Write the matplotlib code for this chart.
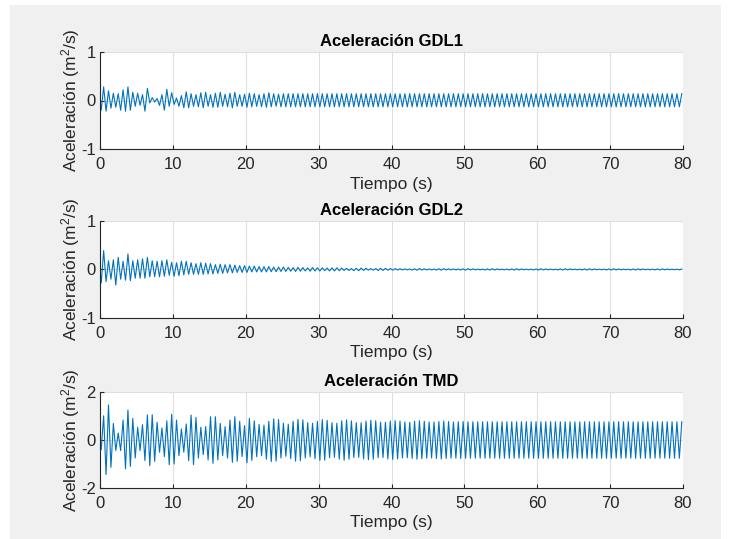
import numpy as np
import matplotlib
matplotlib.use("Agg")
import matplotlib.pyplot as plt
from matplotlib.patches import Rectangle

plt.rcParams['font.family'] = ['Liberation Sans', 'DejaVu Sans']
plt.rcParams['mathtext.fontset'] = 'custom'
plt.rcParams['mathtext.rm'] = 'Liberation Sans'
plt.rcParams['mathtext.it'] = 'Liberation Sans:italic'
plt.rcParams['axes.unicode_minus'] = False

# Extremos (valle/pico alternados), uno cada medio ciclo
medio_periodo = 1 / 3  # s

gdl1_ext = [
    -0.2, 0.28, -0.22, 0.2, -0.16, 0.15, -0.14, 0.14, -0.2, 0.22,
    -0.22, 0.28, -0.2, 0.17, -0.12, 0.15, -0.1, 0.12, -0.22, 0.25,
    -0.05, 0.06, -0.03, 0.04, -0.1, 0.12, -0.2, 0.23, -0.12, 0.16,
    -0.08, 0.05, -0.12, 0.1, -0.15, 0.18, -0.15, 0.14, -0.12, 0.12,
    -0.13, 0.16, -0.15, 0.17, -0.12, 0.12, -0.14, 0.15, -0.14, 0.17,
    -0.12, 0.13, -0.13, 0.15, -0.15, 0.17, -0.12, 0.12, -0.12, 0.13,
    -0.14, 0.15, -0.13, 0.14, -0.12, 0.12, -0.13, 0.14, -0.14, 0.16,
    -0.13, 0.14, -0.12, 0.13, -0.13, 0.14,
] + [-0.13, 0.14] * 82

gdl2_ext = [
    -0.28, 0.39, -0.25, 0.18, -0.2, 0.2, -0.32, 0.25, -0.2, 0.17,
    -0.22, 0.32, -0.23, 0.18, -0.18, 0.2, -0.18, 0.22, -0.18, 0.25,
    -0.15, 0.18, -0.15, 0.17, -0.15, 0.18, -0.14, 0.2, -0.12, 0.15,
    -0.14, 0.14, -0.13, 0.17, -0.11, 0.17, -0.1, 0.14, -0.1, 0.12,
    -0.1, 0.14, -0.1, 0.13, -0.09, 0.12, -0.09, 0.1, -0.08, 0.11,
    -0.08, 0.1, -0.07, 0.1, -0.07, 0.09, -0.06, 0.08, -0.06, 0.08,
    -0.06, 0.07, -0.05, 0.07, -0.05, 0.06, -0.05, 0.06, -0.05, 0.06,
    -0.045, 0.05, -0.045, 0.05, -0.04, 0.05,
    -0.04, 0.045, -0.035, 0.04, -0.04, 0.045, -0.035, 0.04, -0.03, 0.035,
    -0.035, 0.04, -0.03, 0.035, -0.03, 0.035, -0.025, 0.03, -0.03, 0.035,
    -0.03, 0.035, -0.025, 0.03, -0.02, 0.025, -0.02, 0.02, -0.025, 0.025,
    -0.025, 0.03, -0.02, 0.025, -0.015, 0.02, -0.015, 0.02, -0.02, 0.025,
    -0.02, 0.025, -0.015, 0.02,
    -0.015, 0.02, -0.012, 0.015, -0.008, 0.01, -0.008, 0.01, -0.012, 0.015,
    -0.015, 0.02, -0.012, 0.015, -0.008, 0.01, -0.008, 0.01, -0.012, 0.015,
    -0.014, 0.018, -0.01, 0.014, -0.007, 0.009, -0.007, 0.009, -0.01, 0.014,
    -0.014, 0.018, -0.01, 0.013, -0.007, 0.008, -0.007, 0.008, -0.01, 0.013,
    -0.013, 0.017, -0.01, 0.013, -0.006, 0.008, -0.006, 0.008, -0.01, 0.013,
    -0.013, 0.016, -0.01, 0.012, -0.006, 0.007, -0.006, 0.007, -0.01, 0.012,
    -0.012, 0.016, -0.009, 0.012, -0.006, 0.007, -0.006, 0.007, -0.009, 0.012,
    -0.012, 0.015, -0.009, 0.012, -0.005, 0.007, -0.005, 0.007, -0.009, 0.012,
    -0.012, 0.015, -0.009, 0.011, -0.005, 0.006, -0.005, 0.006, -0.009, 0.011,
    -0.011, 0.015, -0.009, 0.011, -0.005, 0.006, -0.005, 0.006, -0.009, 0.011,
    -0.011, 0.014, -0.008, 0.011, -0.005, 0.006, -0.005, 0.006, -0.008, 0.011,
    -0.011, 0.014, -0.008, 0.011, -0.005, 0.006, -0.005, 0.006, -0.008, 0.011,
]

tmd_ext = [
    -0.4, 1.01, -1.44, 1.46, -1.14, 0.69, -0.44, 0.29, -0.44, 0.83,
    -1.2, 1.25, -1.1, 0.9, -0.75, 0.53, -0.44, 0.64, -0.86, 1.05,
    -1.07, 1.05, -0.89, 0.74, -0.51, 0.5, -0.69, 0.8, -1.03, 1.08,
    -1.0, 0.83, -0.65, 0.46, -0.51, 0.67, -0.86, 1.04, -1.03, 0.94,
    -0.75, 0.53, -0.61, 0.56, -0.83, 0.97, -0.97, 0.97, -0.83, 0.69,
    -0.65, 0.56, -0.75, 0.83, -0.93, 0.97, -0.89, 0.78, -0.69, 0.6,
    -0.95, 0.9, -0.85, 0.8, -0.7, 0.65, -0.65, 0.62, -0.8, 0.78,
    -0.9, 0.88, -0.88, 0.85, -0.75, 0.7, -0.68, 0.66, -0.78, 0.78,
    -0.88, 0.86, -0.86, 0.84, -0.75, 0.72, -0.7, 0.7, -0.78, 0.78,
    -0.85, 0.85, -0.84, 0.82, -0.74, 0.72, -0.72, 0.7, -0.8, 0.8,
    -0.84, 0.84, -0.8, 0.8, -0.73, 0.72, -0.72, 0.72, -0.79, 0.79,
    -0.82, 0.82, -0.8, 0.8, -0.74, 0.74, -0.73, 0.74, -0.79, 0.79,
    -0.81, 0.81, -0.79, 0.79, -0.75, 0.75, -0.74, 0.74, -0.77, 0.78,
    -0.8, 0.8, -0.78, 0.78, -0.75, 0.75, -0.75, 0.75, -0.77, 0.77,
    -0.79, 0.79, -0.77, 0.77, -0.75, 0.75, -0.76, 0.76, -0.77, 0.77,
] + [-0.76, 0.76] * 45

titulos = ['Aceleración GDL1', 'Aceleración GDL2', 'Aceleración TMD']
limites_y = [(-1, 1), (-1, 1), (-2, 2)]
ticks_y = [[-1, 0, 1], [-1, 0, 1], [-2, 0, 2]]
ticks_x = [0, 10, 20, 30, 40, 50, 60, 70, 80]
senales = [gdl1_ext, gdl2_ext, tmd_ext]


def serie(ext):
    t = [0.0] + [(i + 0.5) * medio_periodo for i in range(len(ext))]
    y = [0.0] + list(ext)
    return np.array(t), np.array(y)


W, H = 731, 539
fig = plt.figure(figsize=(W / 100, H / 100), dpi=100, facecolor='white')
fondo = Rectangle((10 / W, 0), 711 / W, 534 / H, transform=fig.transFigure,
                  facecolor='#f0f0f0', edgecolor='none', zorder=-10)
fig.patches.append(fondo)

# posiciones de los ejes en pixeles (arriba, abajo)
cajas = [(52, 149), (221, 318), (392, 488)]
gris = '#262626'

for k in range(3):
    top, bot = cajas[k]
    ax = fig.add_axes([100 / W, 1 - bot / H, 583 / W, (bot - top) / H])
    t, y = serie(senales[k])
    ax.plot(t, y, color='#0072BD', lw=0.8)
    ax.set_xlim(0, 80)
    ax.set_ylim(*limites_y[k])
    ax.set_xticks(ticks_x)
    ax.set_yticks(ticks_y[k])
    ax.grid(True, color='#dfdfdf', lw=0.8)
    ax.set_axisbelow(True)
    for s in ['top', 'right']:
        ax.spines[s].set_visible(False)
    for s in ['left', 'bottom']:
        ax.spines[s].set_color(gris)
        ax.spines[s].set_linewidth(0.8)
    ax.tick_params(direction='in', length=3, width=0.8, colors=gris, labelsize=12)
    ax.tick_params(axis='x', pad=6)
    ax.tick_params(axis='y', pad=3)
    ax.set_title(titulos[k], fontsize=12, fontweight='bold', pad=4)
    ax.set_xlabel('Tiempo (s)', fontsize=12.5, color=gris, labelpad=3)
    ax.set_ylabel('Aceleración (m$^2$/s)', fontsize=12.5, color=gris, labelpad=-1)

fig.savefig('out.png', dpi=100, facecolor=fig.get_facecolor())
